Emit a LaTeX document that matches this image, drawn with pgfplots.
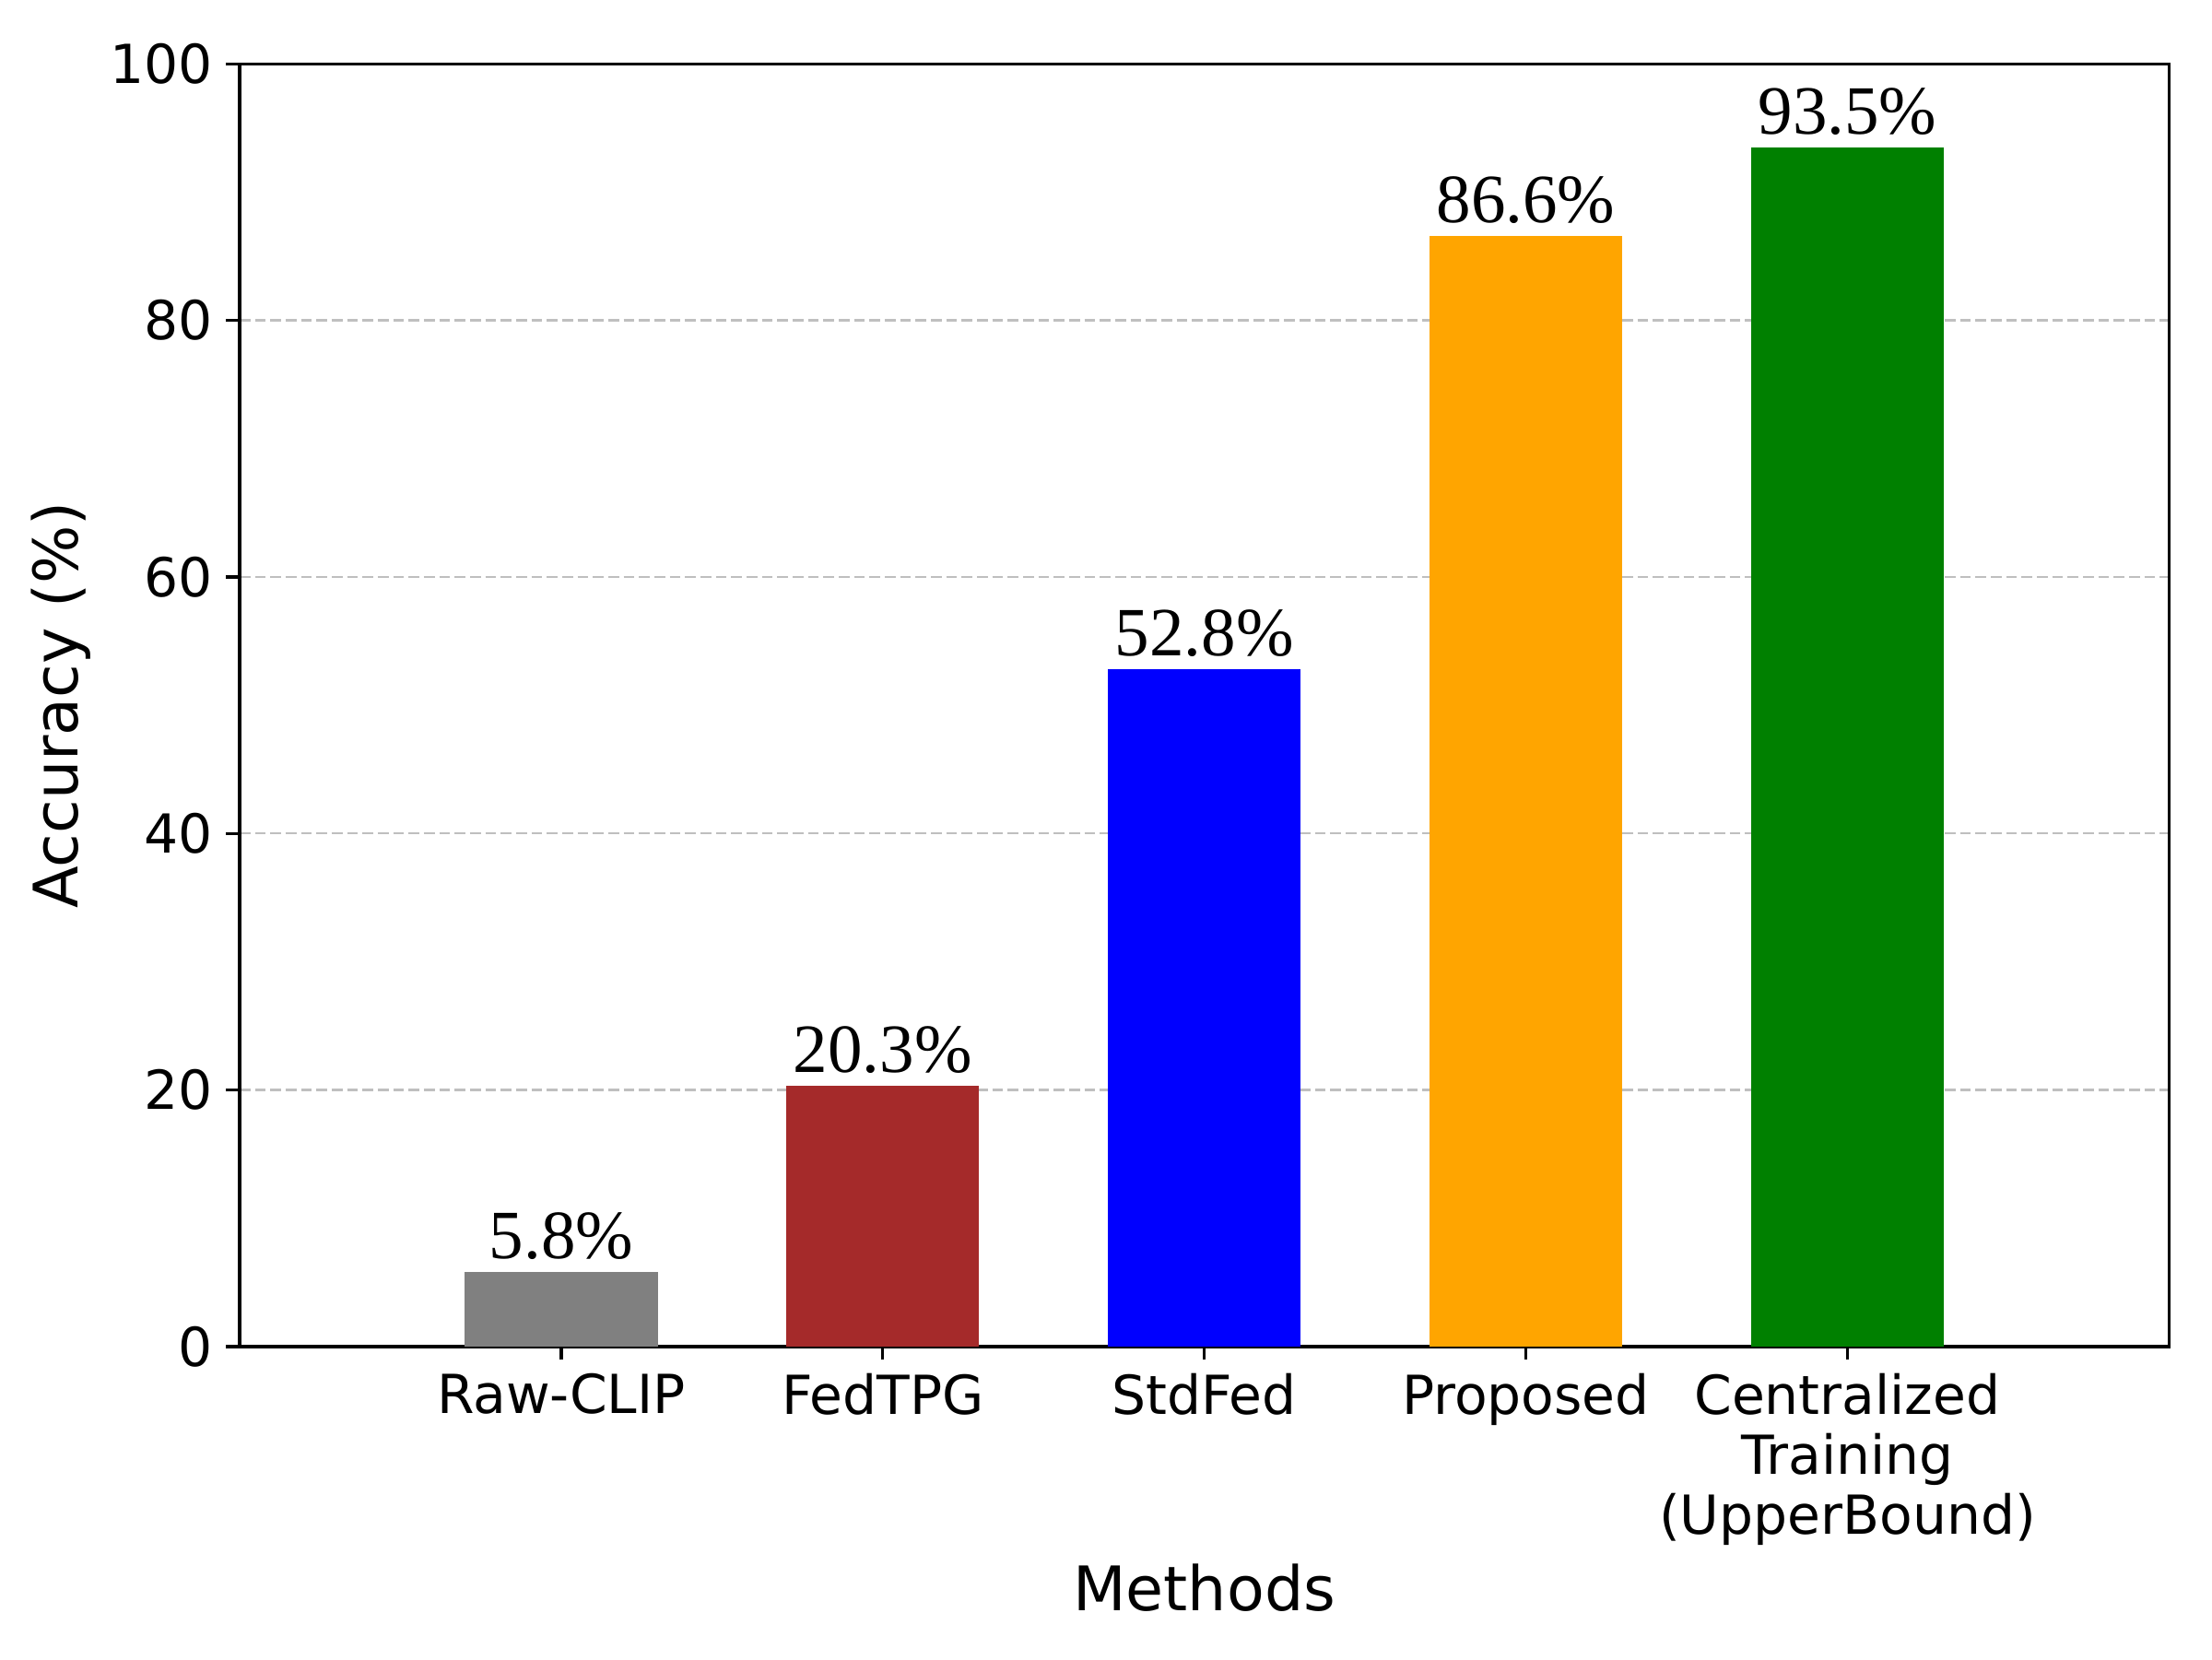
\documentclass[border=0pt]{standalone}
\usepackage{fontspec}
\setmainfont{DejaVu Sans}
\newfontfamily\tnr{Liberation Serif}
\usepackage{pgfplots}
\pgfplotsset{compat=1.18}
\definecolor{cgray}{RGB}{128,128,128}
\definecolor{cbrown}{RGB}{165,42,42}
\definecolor{cblue}{RGB}{0,0,255}
\definecolor{corange}{RGB}{255,165,0}
\definecolor{cgreen}{RGB}{0,128,0}
\begin{document}
\begin{tikzpicture}
\path[use as bounding box] (-62.4pt,-81.6pt) rectangle (513.6pt,350.6pt);
\begin{axis}[
  scale only axis,
  width=502.4pt, height=334pt,
  xmin=-1, xmax=5,
  ymin=0, ymax=100,
  ytick={0,20,40,60,80,100},
  xtick={0,1,2,3,4},
  xticklabels={Raw-CLIP,FedTPG,StdFed,Proposed,{Centralized\\Training\\(UpperBound)}},
  xticklabel style={align=center, font=\fontsize{14}{15.6}\selectfont},
  yticklabel style={font=\fontsize{14}{16}\selectfont},
  /pgf/number format/assume math mode=true,
  tick align=outside,
  major tick length=3.5pt,
  xtick pos=bottom, ytick pos=left,
  axis line style={line width=0.8pt},
  every tick/.style={line width=0.8pt, black},
  ymajorgrids,
  grid style={dashed, dash pattern=on 2.8pt off 1.2pt, line width=0.6pt, color=black!25},
  xlabel={Methods},
  ylabel={Accuracy (\%)},
  label style={font=\fontsize{16}{19}\selectfont},
  ylabel style={yshift=-1.8pt},
  xlabel style={yshift=2pt},
  ybar, bar width=0.6, bar shift=0pt,
  nodes near coords={\pgfmathprintnumber[fixed,precision=1,fixed zerofill]{\pgfplotspointmeta}\%},
  every node near coord/.append style={font=\tnr\fontsize{18}{20}\selectfont, anchor=south, inner sep=0pt, yshift=3pt, black},
]
\addplot[fill=cgray, draw=none] coordinates {(0,5.8)};
\addplot[fill=cbrown, draw=none] coordinates {(1,20.3)};
\addplot[fill=cblue, draw=none] coordinates {(2,52.8)};
\addplot[fill=corange, draw=none] coordinates {(3,86.6)};
\addplot[fill=cgreen, draw=none] coordinates {(4,93.5)};
\end{axis}
\end{tikzpicture}
\end{document}
